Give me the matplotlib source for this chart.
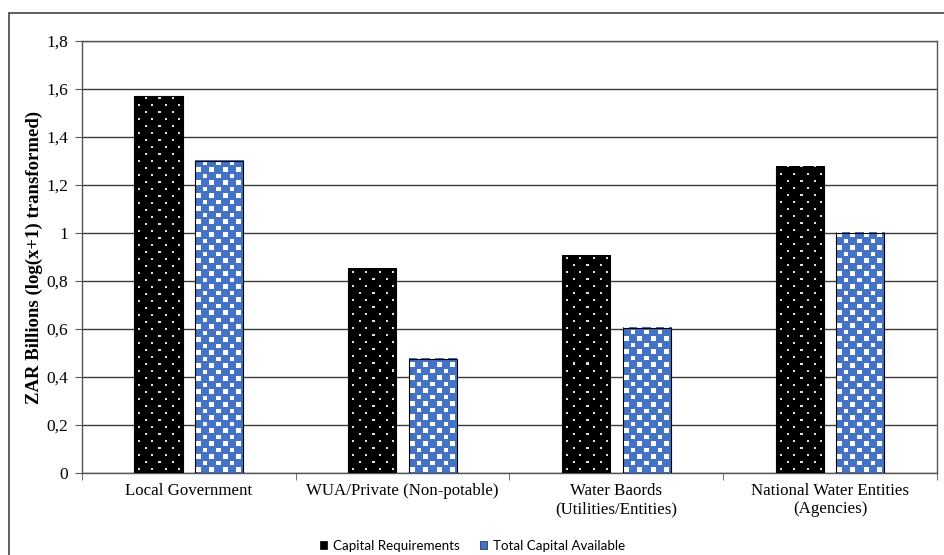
import matplotlib.pyplot as plt
import numpy as np
from matplotlib.patches import Patch, Rectangle
from matplotlib.ticker import FuncFormatter

# Capital needs vs. capital available per institution type (log(x+1) scale)
categories = ['Local Government', 'WUA/Private (Non-potable)',
              'Water Baords\n(Utilities/Entities)', 'National Water Entities\n(Agencies)']
capital_requirements = [1.57, 0.85, 0.905, 1.275]
capital_available = [1.30, 0.475, 0.605, 1.00]

BLUE = '#4472C4'

plt.rcParams['font.family'] = ['Liberation Serif', 'DejaVu Serif']


def checker_texture(w_px, h_px, cell=6.5):
    """Blue/white checkered fill, one value per screen pixel (row 0 = bottom)."""
    jj, ii = np.meshgrid(np.arange(w_px) + 0.5, np.arange(h_px) + 0.5)
    cj, ci = np.floor(jj / cell), np.floor(ii / cell)
    fj, fi = jj - cj * cell, ii - ci * cell
    white = ((ci + cj) % 2 == 0) & (fj > 1.0) & (fj < cell - 0.8) & \
            (fi > 1.0) & (fi < cell - 0.8)
    img = np.empty((h_px, w_px, 3))
    img[:] = np.array([0x44, 0x72, 0xC4]) / 255
    img[white] = 1.0
    return img


def dot_texture(w_px, h_px, dx=13, dy=7):
    """Black fill with a staggered grid of small light dots (row 0 = bottom)."""
    jj, ii = np.meshgrid(np.arange(w_px), np.arange(h_px))
    row = ii // dy
    shift = (row % 2) * (dx // 2)
    dots = (((jj + shift + dx - 4) % dx) < 2) & ((ii % dy) >= 3) & ((ii % dy) < 5)
    img = np.zeros((h_px, w_px, 3))
    img[dots] = 0.88
    return img


fig = plt.figure(figsize=(9.45, 5.55), dpi=100)
ax = fig.add_axes([0.0868, 0.1477, 0.9047, 0.7784])

x = np.arange(len(categories))
w = 0.225
off = 0.142

ax.set_xlim(-0.5, len(categories) - 0.5)
ax.set_ylim(0, 1.8)


def fill_bars(bars, texture):
    # paint a pixel texture inside each bar rectangle
    for p in bars:
        x0, y0 = p.get_x(), p.get_y()
        x1, y1 = x0 + p.get_width(), y0 + p.get_height()
        (px0, py0), (px1, py1) = ax.transData.transform([(x0, y0), (x1, y1)])
        tex = texture(int(round(px1 - px0)), int(round(py1 - py0)))
        ax.imshow(tex, extent=(x0, x1, y0, y1), origin='lower',
                  interpolation='nearest', aspect='auto', zorder=3)


req = ax.bar(x - off, capital_requirements, w, facecolor='none',
             edgecolor='black', linewidth=0.8, zorder=4)
avail = ax.bar(x + off, capital_available, w, facecolor='none',
               edgecolor='black', linewidth=0.8, zorder=4)
fill_bars(req, dot_texture)
fill_bars(avail, checker_texture)

ax.set_xlim(-0.5, len(categories) - 0.5)
ax.set_ylim(0, 1.8)
ax.set_yticks(np.arange(0, 1.81, 0.2))
ax.yaxis.set_major_formatter(FuncFormatter(lambda v, p: f'{v:g}'.replace('.', ',')))
ax.yaxis.grid(True, color='#3a3a3a', linewidth=1)
ax.set_axisbelow(True)

ax.set_xticks(x)
ax.set_xticklabels(categories, fontsize=12.2)
ax.set_xticks(np.arange(-0.5, len(categories)), minor=True)
ax.tick_params(axis='x', which='major', length=0, pad=7)
ax.tick_params(axis='x', which='minor', length=5, color='#555555')
ax.tick_params(axis='y', labelsize=12.5, length=5, color='#555555', pad=5)

for s in ax.spines.values():
    s.set_color('#555555')
    s.set_linewidth(1)

ax.set_ylabel('ZAR Billions (log(x+1) transformed)', fontsize=13.5,
              fontweight='bold', labelpad=2)

handles = [
    Patch(facecolor='black', edgecolor='black', linewidth=0.5),
    Patch(facecolor=BLUE, edgecolor='#1f3a6e', linewidth=0.6),
]
fig.legend(handles, ['Capital Requirements', 'Total Capital Available'],
           loc='center', bbox_to_anchor=(0.5, 0.016), ncol=2, frameon=False,
           handlelength=0.55, handleheight=0.55, handletextpad=0.45,
           columnspacing=1.5, prop={'family': 'Lato', 'size': 9.6})

# outer chart frame
fig.patches.append(Rectangle((9 / 945, -0.1), 1.2, 1 - 13 / 555 + 0.1,
                             transform=fig.transFigure, fill=False,
                             edgecolor='#444444', linewidth=1.2))

fig.savefig('out.png', dpi=100)
